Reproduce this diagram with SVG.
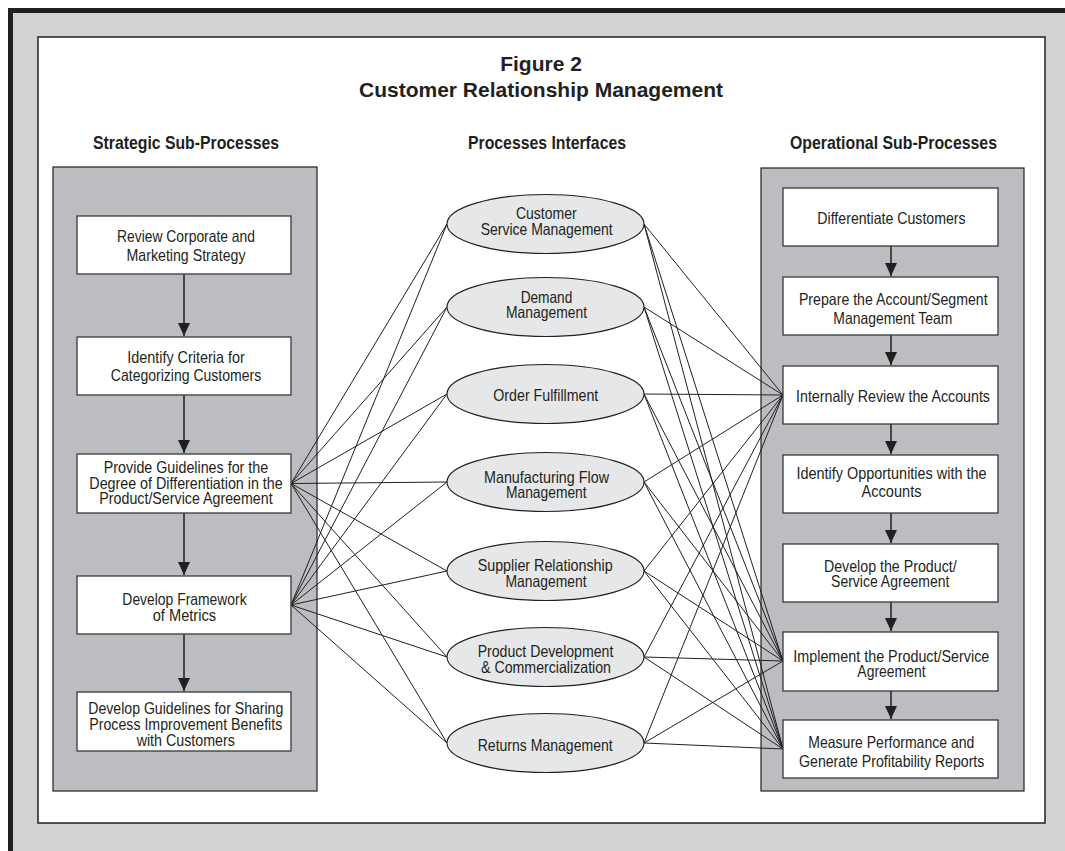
<svg xmlns="http://www.w3.org/2000/svg" width="1065" height="851" viewBox="0 0 1065 851">
<defs>
<style>
.t{font-family:'Liberation Sans Narrow','Liberation Sans',Arial,sans-serif;font-size:16.5px;fill:#231f20;text-anchor:middle}
.h{font-family:'Liberation Sans Narrow','Liberation Sans',Arial,sans-serif;font-size:19px;font-weight:bold;fill:#231f20;text-anchor:middle}
.ti{font-family:'Liberation Sans',Arial,sans-serif;font-size:21px;font-weight:bold;fill:#231f20;text-anchor:middle}
.box{fill:#ffffff;stroke:#3a3839;stroke-width:1.3}
.ell{fill:#e6e7e8;stroke:#231f20;stroke-width:1.1}
.panel{fill:#bcbdc0;stroke:#231f20;stroke-width:1.2}
.con line{stroke:#231f20;stroke-width:1}
.arr{stroke:#231f20;stroke-width:1.5;marker-end:url(#ah)}
</style>
<marker id="ah" markerUnits="userSpaceOnUse" markerWidth="13" markerHeight="12" refX="13" refY="6" orient="auto" viewBox="0 0 13 12">
<path d="M0,0 L13,6 L0,12 z" fill="#231f20"/>
</marker>
</defs>

<rect x="10.5" y="10.5" width="1100" height="900" fill="#d1d2d4" stroke="#231f20" stroke-width="5"/>
<rect x="38" y="37" width="1007" height="786" fill="#ffffff" stroke="#231f20" stroke-width="1.5"/>

<g id="title">
<text class="ti" x="541" y="71">Figure 2</text>
<text class="ti" x="541" y="97">Customer Relationship Management</text>
</g>
<g id="headings">
<text class="h" x="186" y="149" textLength="186" lengthAdjust="spacingAndGlyphs">Strategic Sub-Processes</text>
<text class="h" x="547" y="149" textLength="158" lengthAdjust="spacingAndGlyphs">Processes Interfaces</text>
<text class="h" x="893.5" y="149" textLength="207" lengthAdjust="spacingAndGlyphs">Operational Sub-Processes</text>
</g>

<rect id="strategic-panel" class="panel" x="53" y="167" width="264" height="624"/>
<rect id="operational-panel" class="panel" x="761" y="168" width="263" height="623"/>

<g id="connectors" class="con">
<line x1="291" y1="483.5" x2="447" y2="224"/>
<line x1="291" y1="483.5" x2="447" y2="307"/>
<line x1="291" y1="483.5" x2="447" y2="394"/>
<line x1="291" y1="483.5" x2="447" y2="482"/>
<line x1="291" y1="483.5" x2="447" y2="571"/>
<line x1="291" y1="483.5" x2="447" y2="657"/>
<line x1="291" y1="483.5" x2="447" y2="743"/>
<line x1="291" y1="605" x2="447" y2="224"/>
<line x1="291" y1="605" x2="447" y2="307"/>
<line x1="291" y1="605" x2="447" y2="394"/>
<line x1="291" y1="605" x2="447" y2="482"/>
<line x1="291" y1="605" x2="447" y2="571"/>
<line x1="291" y1="605" x2="447" y2="657"/>
<line x1="291" y1="605" x2="447" y2="743"/>
<line x1="644" y1="224" x2="783" y2="395"/>
<line x1="644" y1="224" x2="783" y2="661"/>
<line x1="644" y1="224" x2="783" y2="749"/>
<line x1="644" y1="307" x2="783" y2="395"/>
<line x1="644" y1="307" x2="783" y2="661"/>
<line x1="644" y1="307" x2="783" y2="749"/>
<line x1="644" y1="394" x2="783" y2="395"/>
<line x1="644" y1="394" x2="783" y2="661"/>
<line x1="644" y1="394" x2="783" y2="749"/>
<line x1="644" y1="482" x2="783" y2="395"/>
<line x1="644" y1="482" x2="783" y2="661"/>
<line x1="644" y1="482" x2="783" y2="749"/>
<line x1="644" y1="571" x2="783" y2="395"/>
<line x1="644" y1="571" x2="783" y2="661"/>
<line x1="644" y1="571" x2="783" y2="749"/>
<line x1="644" y1="657" x2="783" y2="395"/>
<line x1="644" y1="657" x2="783" y2="661"/>
<line x1="644" y1="657" x2="783" y2="749"/>
<line x1="644" y1="743" x2="783" y2="395"/>
<line x1="644" y1="743" x2="783" y2="661"/>
<line x1="644" y1="743" x2="783" y2="749"/>
</g>

<g id="flow-arrows">
<line class="arr" x1="184" y1="274" x2="184" y2="336"/>
<line class="arr" x1="184" y1="395" x2="184" y2="453"/>
<line class="arr" x1="184" y1="513" x2="184" y2="575"/>
<line class="arr" x1="184" y1="634" x2="184" y2="691"/>
<line class="arr" x1="891" y1="246" x2="891" y2="276"/>
<line class="arr" x1="891" y1="335" x2="891" y2="365"/>
<line class="arr" x1="891" y1="424" x2="891" y2="454"/>
<line class="arr" x1="891" y1="513" x2="891" y2="543"/>
<line class="arr" x1="891" y1="602" x2="891" y2="631"/>
<line class="arr" x1="891" y1="691" x2="891" y2="719"/>
</g>

<g id="s1"><rect class="box" x="77" y="216" width="214" height="58"/>
<text class="t" x="186" y="242.3" textLength="138" lengthAdjust="spacingAndGlyphs">Review Corporate and</text>
<text class="t" x="186" y="261" textLength="119" lengthAdjust="spacingAndGlyphs">Marketing Strategy</text></g>
<g id="s2"><rect class="box" x="77" y="337" width="214" height="58"/>
<text class="t" x="186" y="362.7" textLength="117.7" lengthAdjust="spacingAndGlyphs">Identify Criteria for</text>
<text class="t" x="186" y="381" textLength="150.3" lengthAdjust="spacingAndGlyphs">Categorizing Customers</text></g>
<g id="s3"><rect class="box" x="77" y="454" width="214" height="59"/>
<text class="t" x="186" y="473.3" textLength="164.3" lengthAdjust="spacingAndGlyphs">Provide Guidelines for the</text>
<text class="t" x="186" y="488.8" textLength="193.3" lengthAdjust="spacingAndGlyphs">Degree of Differentiation in the</text>
<text class="t" x="186" y="504.3" textLength="173.3" lengthAdjust="spacingAndGlyphs">Product/Service Agreement</text></g>
<g id="s4"><rect class="box" x="77" y="576" width="214" height="58"/>
<text class="t" x="184.5" y="605" textLength="124.3" lengthAdjust="spacingAndGlyphs">Develop Framework</text>
<text class="t" x="184.4" y="621" textLength="63.3" lengthAdjust="spacingAndGlyphs">of Metrics</text></g>
<g id="s5"><rect class="box" x="77" y="692" width="214" height="59"/>
<text class="t" x="185.8" y="714" textLength="195" lengthAdjust="spacingAndGlyphs">Develop Guidelines for Sharing</text>
<text class="t" x="185.8" y="730" textLength="193" lengthAdjust="spacingAndGlyphs">Process Improvement Benefits</text>
<text class="t" x="185.8" y="745.5" textLength="98.3" lengthAdjust="spacingAndGlyphs">with Customers</text></g>

<g id="i1"><ellipse class="ell" cx="545.5" cy="224" rx="98.5" ry="29.5"/>
<text class="t" x="546.3" y="219.3" textLength="60.7" lengthAdjust="spacingAndGlyphs">Customer</text>
<text class="t" x="546.7" y="235" textLength="132" lengthAdjust="spacingAndGlyphs">Service Management</text></g>
<g id="i2"><ellipse class="ell" cx="545.5" cy="307" rx="98.5" ry="29.5"/>
<text class="t" x="546.5" y="302.7" textLength="51.7" lengthAdjust="spacingAndGlyphs">Demand</text>
<text class="t" x="546.5" y="318" textLength="81" lengthAdjust="spacingAndGlyphs">Management</text></g>
<g id="i3"><ellipse class="ell" cx="545.5" cy="394" rx="98.5" ry="29.5"/>
<text class="t" x="545.8" y="401" textLength="105" lengthAdjust="spacingAndGlyphs">Order Fulfillment</text></g>
<g id="i4"><ellipse class="ell" cx="545.5" cy="482" rx="98.5" ry="29.5"/>
<text class="t" x="546.5" y="482.7" textLength="125" lengthAdjust="spacingAndGlyphs">Manufacturing Flow</text>
<text class="t" x="546.3" y="498" textLength="80.7" lengthAdjust="spacingAndGlyphs">Management</text></g>
<g id="i5"><ellipse class="ell" cx="545.5" cy="571" rx="98.5" ry="29.5"/>
<text class="t" x="545.2" y="571" textLength="135" lengthAdjust="spacingAndGlyphs">Supplier Relationship</text>
<text class="t" x="546" y="586.7" textLength="81" lengthAdjust="spacingAndGlyphs">Management</text></g>
<g id="i6"><ellipse class="ell" cx="545.5" cy="657" rx="98.5" ry="29.5"/>
<text class="t" x="545.5" y="656.7" textLength="135.7" lengthAdjust="spacingAndGlyphs">Product Development</text>
<text class="t" x="546" y="672.7" textLength="130" lengthAdjust="spacingAndGlyphs">&amp; Commercialization</text></g>
<g id="i7"><ellipse class="ell" cx="545.5" cy="743" rx="98.5" ry="29.5"/>
<text class="t" x="545.2" y="750.7" textLength="135" lengthAdjust="spacingAndGlyphs">Returns Management</text></g>

<g id="o1"><rect class="box" x="783" y="188" width="215" height="58"/>
<text class="t" x="891.5" y="224" textLength="148.3" lengthAdjust="spacingAndGlyphs">Differentiate Customers</text></g>
<g id="o2"><rect class="box" x="783" y="277" width="215" height="58"/>
<text class="t" x="893.3" y="305" textLength="188.7" lengthAdjust="spacingAndGlyphs">Prepare the Account/Segment</text>
<text class="t" x="892.8" y="324" textLength="119" lengthAdjust="spacingAndGlyphs">Management Team</text></g>
<g id="o3"><rect class="box" x="783" y="366" width="215" height="58"/>
<text class="t" x="893" y="402" textLength="194" lengthAdjust="spacingAndGlyphs">Internally Review the Accounts</text></g>
<g id="o4"><rect class="box" x="783" y="455" width="215" height="58"/>
<text class="t" x="891.5" y="478.5" textLength="190" lengthAdjust="spacingAndGlyphs">Identify Opportunities with the</text>
<text class="t" x="891.5" y="497" textLength="60" lengthAdjust="spacingAndGlyphs">Accounts</text></g>
<g id="o5"><rect class="box" x="783" y="544" width="215" height="58"/>
<text class="t" x="890.3" y="571.7" textLength="132.7" lengthAdjust="spacingAndGlyphs">Develop the Product/</text>
<text class="t" x="890.2" y="586.7" textLength="118.3" lengthAdjust="spacingAndGlyphs">Service Agreement</text></g>
<g id="o6"><rect class="box" x="783" y="632" width="215" height="59"/>
<text class="t" x="891.3" y="661.7" textLength="196" lengthAdjust="spacingAndGlyphs">Implement the Product/Service</text>
<text class="t" x="891.5" y="677.3" textLength="68.3" lengthAdjust="spacingAndGlyphs">Agreement</text></g>
<g id="o7"><rect class="box" x="783" y="720" width="215" height="58"/>
<text class="t" x="891.3" y="748.3" textLength="166" lengthAdjust="spacingAndGlyphs">Measure Performance and</text>
<text class="t" x="891.7" y="767.3" textLength="185.3" lengthAdjust="spacingAndGlyphs">Generate Profitability Reports</text></g>
</svg>
